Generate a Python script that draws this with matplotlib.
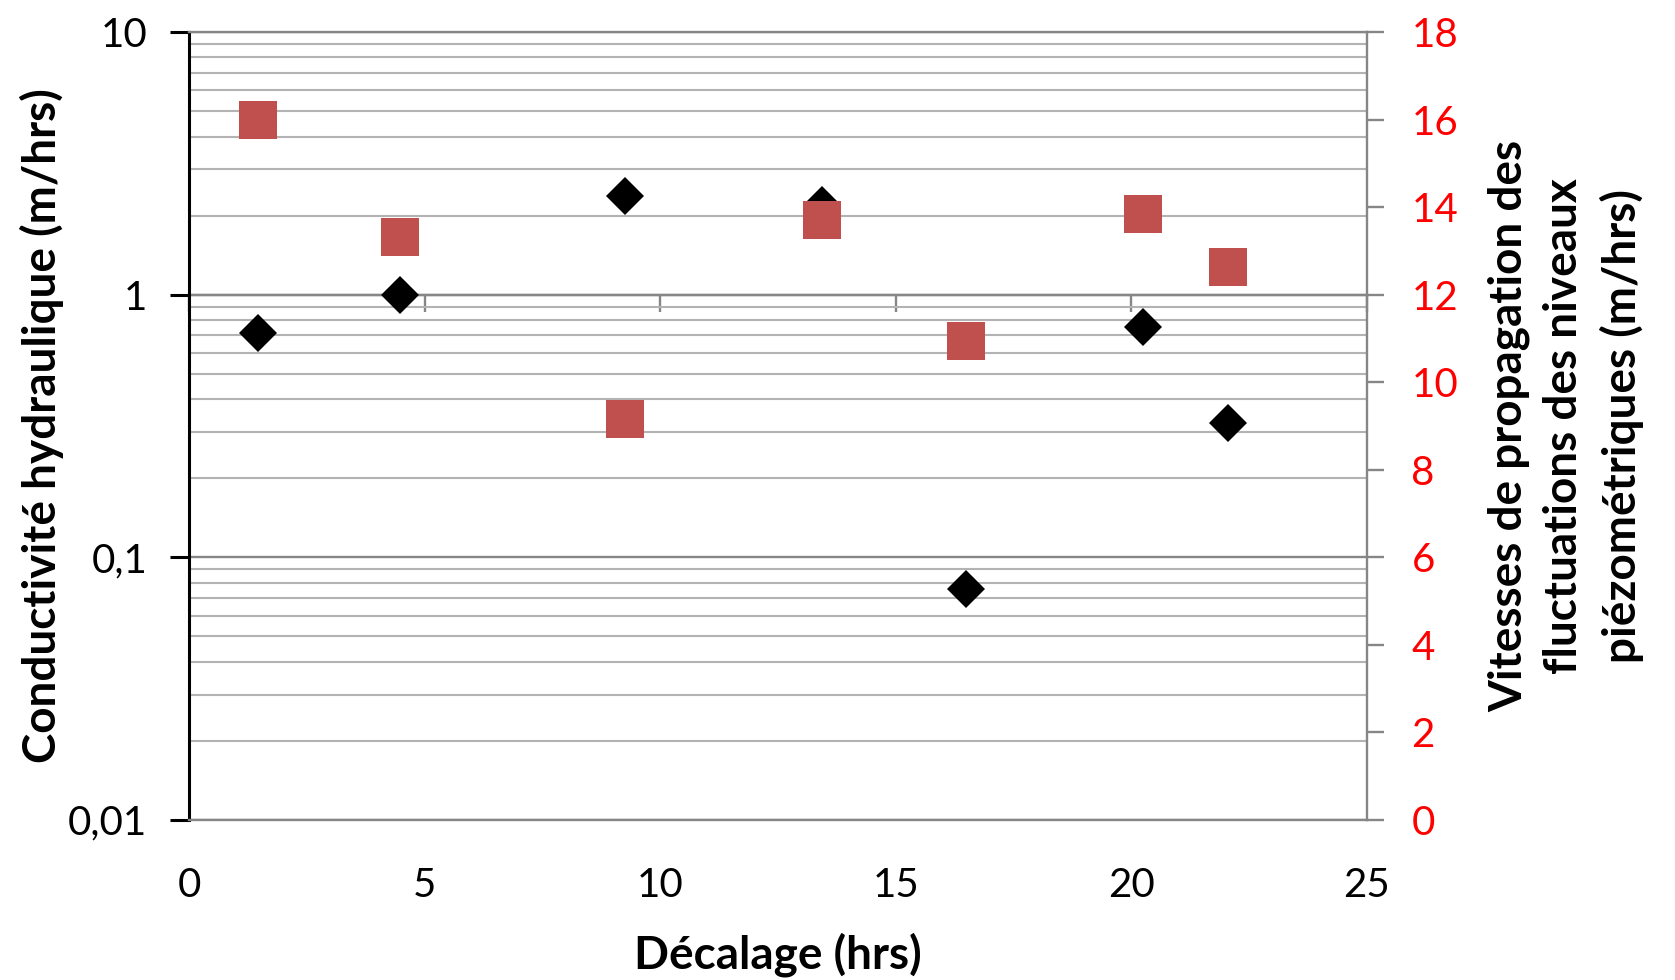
import numpy as np
import matplotlib
matplotlib.use('Agg')
import matplotlib.pyplot as plt
from matplotlib.ticker import FixedLocator, LogLocator, NullFormatter

# values
decalage = [1.47, 4.47, 9.25, 13.44, 16.5, 20.24, 22.05]
conductivite = [0.715, 1.0, 2.37, 2.2, 0.076, 0.755, 0.325]
vitesse = [15.98, 13.32, 9.15, 13.71, 10.95, 13.85, 12.63]

x_ticks = [0, 5, 10, 15, 20, 25]
k_ticks = [0.01, 0.1, 1, 10]
k_labels = ['0,01', '0,1', '1', '10']
v_ticks = list(range(0, 19, 2))

plt.rcParams['font.family'] = ['Lato', 'DejaVu Sans']

grid_major = '#868686'
grid_minor = '#b3b3b3'
fs = 29
fs_lab = 33

fig = plt.figure(figsize=(16.75, 9.8), dpi=100)
ax = fig.add_axes([0.1128, 0.1633, 0.7033, 0.804])
ax.set_yscale('log')
ax.set_ylim(k_ticks[0], k_ticks[-1])
ax.set_xlim(x_ticks[0], x_ticks[-1])

ax.yaxis.set_major_locator(FixedLocator(k_ticks))
ax.set_yticklabels(k_labels)
ax.yaxis.set_minor_locator(LogLocator(base=10, subs=np.arange(2, 10)))
ax.yaxis.set_minor_formatter(NullFormatter())
ax.grid(True, which='major', axis='y', color=grid_major, lw=1.7)
ax.grid(True, which='minor', axis='y', color=grid_minor, lw=1.5)
ax.set_axisbelow(True)
ax.tick_params(axis='y', which='major', direction='out', length=14, width=2.2,
               color='black', labelsize=fs, pad=16)
ax.tick_params(axis='y', which='minor', length=0)
ax.set_xticks(x_ticks)
ax.tick_params(axis='x', length=0, labelsize=fs, pad=34)

ax.spines['left'].set_color('black')
ax.spines['left'].set_linewidth(2.2)
for s in ['bottom', 'top']:
    ax.spines[s].set_color(grid_major)
    ax.spines[s].set_linewidth(1.7)
ax.spines['right'].set_visible(False)

# x axis crosses the log axis at 1 (Excel style), labels stay at the bottom
lo, hi = np.log10(ax.get_ylim())
sec = ax.secondary_xaxis((0 - lo) / (hi - lo))
sec.set_xticks(x_ticks)
sec.tick_params(direction='in', length=12, width=1.7, color=grid_major,
                labeltop=False, labelbottom=False)
for sp in sec.spines.values():
    sp.set_color(grid_major)
    sp.set_linewidth(1.7)

ax.plot(decalage, conductivite, 'D', color='black', ms=19.5, mew=0, linestyle='none')

ax2 = ax.twinx()
ax2.set_ylim(v_ticks[0], v_ticks[-1])
ax2.set_yticks(v_ticks)
ax2.tick_params(axis='y', direction='out', length=12, width=1.7, color=grid_major,
                labelcolor='#ff0000', labelsize=fs, pad=20)
for s in ['left', 'top', 'bottom']:
    ax2.spines[s].set_visible(False)
ax2.spines['right'].set_color(grid_major)
ax2.spines['right'].set_linewidth(1.7)
ax2.plot(decalage, vitesse, 's', color='#c0504d', ms=27, mew=0, linestyle='none')

ax.set_xlabel('Décalage (hrs)', fontsize=fs_lab, fontweight='bold', labelpad=20)
ax.set_ylabel('Conductivité hydraulique (m/hrs)', fontsize=fs_lab, fontweight='bold', labelpad=3)
ax2.set_ylabel('Vitesses de propagation des\nfluctuations des niveaux\npiézométriques (m/hrs)',
               fontsize=fs_lab, fontweight='bold', labelpad=21, multialignment='center',
               linespacing=1.4)

fig.savefig('out.png', dpi=100)
